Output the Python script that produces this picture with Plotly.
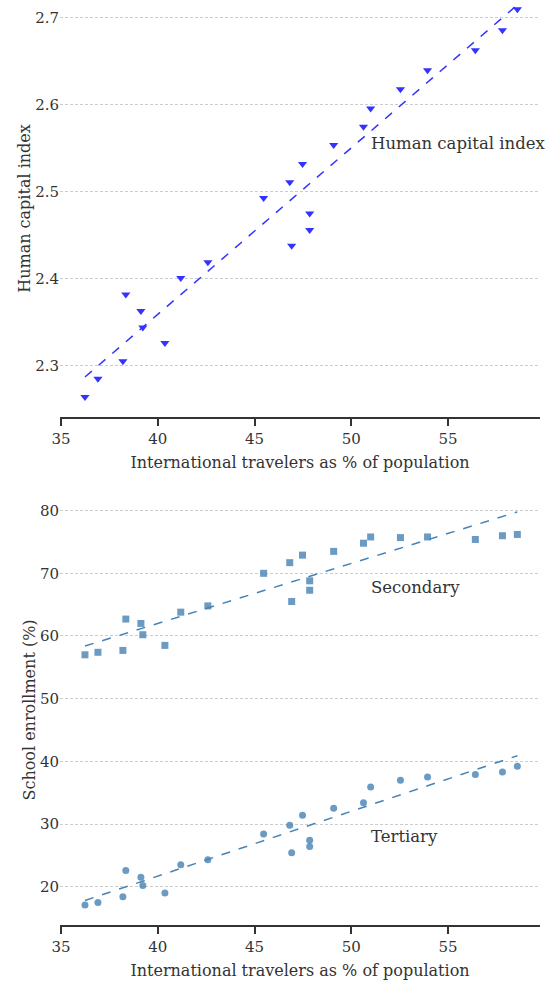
import plotly.graph_objects as go
from plotly.subplots import make_subplots

# Data
travelers = [36.24, 36.91, 38.20, 38.35, 39.13, 39.23, 40.37, 41.19, 42.59, 45.47,
             46.82, 46.92, 47.48, 47.85, 47.85, 49.09, 50.63, 51.00, 52.54, 53.94,
             56.41, 57.81, 58.58]
human_capital = [2.264, 2.285, 2.305, 2.382, 2.363, 2.344, 2.326, 2.401, 2.419, 2.493,
                 2.511, 2.438, 2.532, 2.475, 2.456, 2.554, 2.575, 2.596, 2.618, 2.640,
                 2.663, 2.686, 2.710]
secondary = [57.0, 57.4, 57.7, 62.7, 62.0, 60.2, 58.5, 63.8, 64.8, 70.0,
             71.7, 65.5, 72.9, 68.8, 67.3, 73.5, 74.8, 75.8, 75.7, 75.8,
             75.4, 76.0, 76.2]
tertiary = [17.1, 17.5, 18.4, 22.6, 21.5, 20.2, 19.0, 23.5, 24.3, 28.4,
            29.8, 25.4, 31.4, 27.4, 26.4, 32.5, 33.4, 35.9, 37.0, 37.5,
            37.9, 38.3, 39.2]

# Trend lines (endpoints)
trend_x = [36.24, 58.58]
trend_hci = [2.287, 2.715]
trend_secondary = [58.4, 79.8]
trend_tertiary = [17.8, 40.9]

x_ticks = [35, 40, 45, 50, 55]
hci_ticks = [2.3, 2.4, 2.5, 2.6, 2.7]
enroll_ticks = [20, 30, 40, 50, 60, 70, 80]

FONT = "DejaVu Serif, serif"
TXT = "#333333"
BLUE = "#3333ff"
STEEL = "#4682b4"

fig = make_subplots(rows=2, cols=1, vertical_spacing=0.085)

fig.add_trace(go.Scatter(x=travelers, y=human_capital, mode="markers",
                         marker=dict(symbol="triangle-down", size=8, color=BLUE),
                         showlegend=False), row=1, col=1)
fig.add_trace(go.Scatter(x=trend_x, y=trend_hci, mode="lines",
                         line=dict(color=BLUE, width=1.5, dash="dash"),
                         showlegend=False), row=1, col=1)

fig.add_trace(go.Scatter(x=travelers, y=secondary, mode="markers",
                         marker=dict(symbol="square", size=7, color=STEEL, opacity=0.8),
                         showlegend=False), row=2, col=1)
fig.add_trace(go.Scatter(x=trend_x, y=trend_secondary, mode="lines",
                         line=dict(color=STEEL, width=1.5, dash="dash"),
                         showlegend=False), row=2, col=1)
fig.add_trace(go.Scatter(x=travelers, y=tertiary, mode="markers",
                         marker=dict(symbol="circle", size=7, color=STEEL, opacity=0.8),
                         showlegend=False), row=2, col=1)
fig.add_trace(go.Scatter(x=trend_x, y=trend_tertiary, mode="lines",
                         line=dict(color=STEEL, width=1.5, dash="dash"),
                         showlegend=False), row=2, col=1)

xaxis_common = dict(range=[34.95, 59.75], tickvals=x_ticks, showline=True,
                    linecolor="#333333", linewidth=2, ticks="outside", ticklen=7,
                    tickwidth=2, tickcolor="#333333", showgrid=False, zeroline=False,
                    automargin=False,
                    tickfont=dict(size=15, color=TXT, family=FONT),
                    title=dict(text="International travelers as % of population",
                               font=dict(size=16, color=TXT, family=FONT), standoff=10))
yaxis_common = dict(showline=False, ticks="", showgrid=True, gridcolor="#cccccc",
                    gridwidth=1, griddash="3px,2px", zeroline=False, automargin=False,
                    tickfont=dict(size=15, color=TXT, family=FONT))

fig.update_xaxes(**xaxis_common, row=1, col=1)
fig.update_xaxes(**xaxis_common, row=2, col=1)
fig.update_yaxes(**yaxis_common, range=[2.241, 2.7207], tickvals=hci_ticks,
                 tickformat=".1f",
                 title=dict(text="Human capital index",
                            font=dict(size=16, color=TXT, family=FONT), standoff=0),
                 row=1, col=1)
fig.update_yaxes(**yaxis_common, range=[13.89, 82.5], tickvals=enroll_ticks,
                 title=dict(text="School enrollment (%)",
                            font=dict(size=16, color=TXT, family=FONT), standoff=0),
                 row=2, col=1)

fig.update_layout(
    width=549, height=985,
    margin=dict(l=60, r=9, t=0, b=60),
    plot_bgcolor="white", paper_bgcolor="white",
    font=dict(family=FONT, color=TXT),
    xaxis=dict(domain=[0, 1]), xaxis2=dict(domain=[0, 1]),
    yaxis=dict(domain=[0.5492, 1.0]), yaxis2=dict(domain=[0.0, 0.4649]),
)

ann_font = dict(size=16.5, color=TXT, family=FONT)
fig.add_annotation(x=50.94, y=2.556, xref="x", yref="y", text="Human capital index",
                   showarrow=False, xanchor="left", yanchor="middle", font=ann_font)
fig.add_annotation(x=50.9, y=67.8, xref="x2", yref="y2", text="Secondary",
                   showarrow=False, xanchor="left", yanchor="middle", font=ann_font)
fig.add_annotation(x=50.94, y=27.96, xref="x2", yref="y2", text="Tertiary",
                   showarrow=False, xanchor="left", yanchor="middle", font=ann_font)

fig.write_html("out.html", config={"displayModeBar": False},
               post_script="document.body.style.margin='0';document.body.style.padding='0';")
